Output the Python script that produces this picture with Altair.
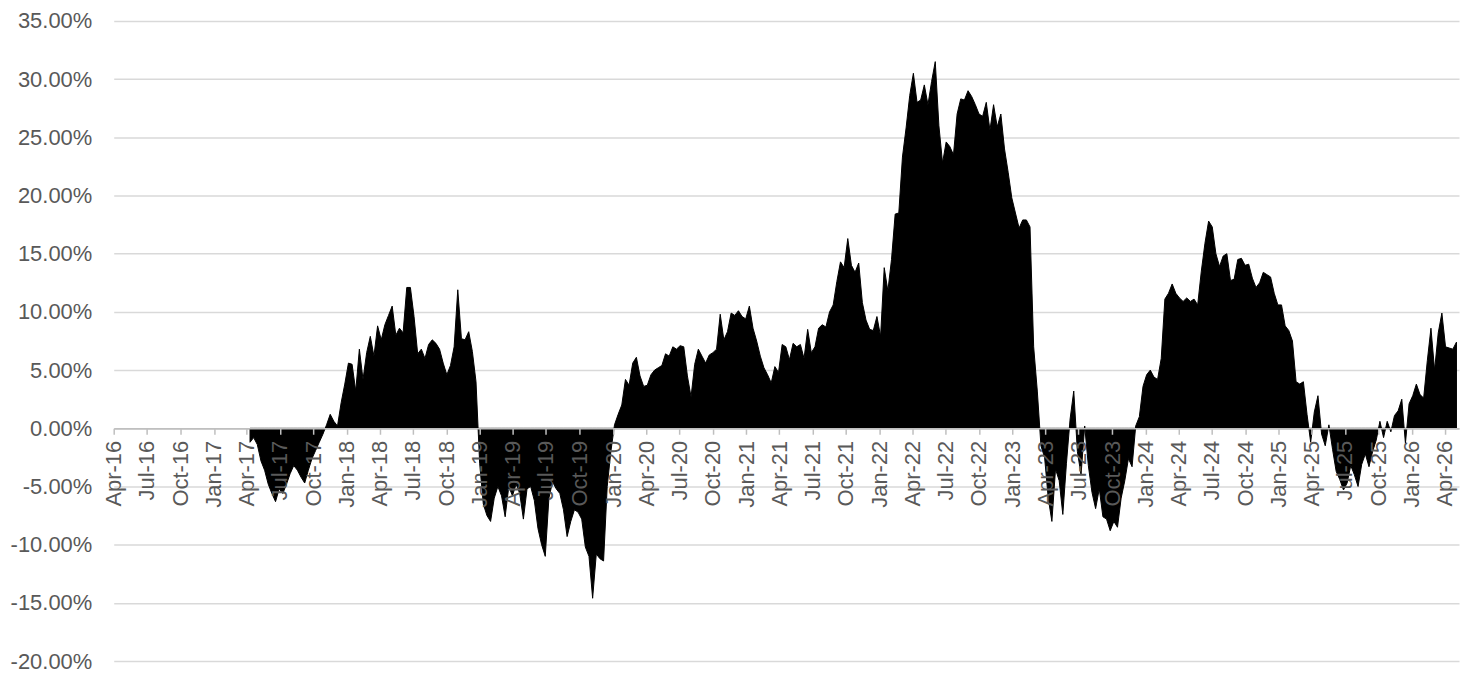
import altair as alt
import pandas as pd

# Series start date and 10-day spacing between observations
start_date = "2017-04-10"
step = "10D"

# Values in percent (one per 10 days)
values = [
    -1.2, -0.8, -1.4, -2.8, -3.6, -4.8, -5.6, -6.3, -5.2, -5.6,
    -4.8, -3.9, -3.2, -3.6, -4.2, -4.7, -3.6, -2.6, -1.9, -1.2,
    -0.5, 0.3, 1.2, 0.6, 0.2, 2.2, 3.8, 5.6, 5.5, 3.2,
    6.8, 4.2, 6.5, 7.9, 6.2, 8.8, 7.6, 8.9, 9.7, 10.5,
    8.0, 8.6, 8.2, 12.1, 12.1, 9.6, 6.4, 6.8, 6.0, 7.2,
    7.6, 7.3, 6.8, 5.6, 4.6, 5.4, 7.0, 11.9, 7.7, 7.6,
    8.3, 6.6, 4.0, -3.0, -6.5, -7.5, -8.0, -6.0, -5.0, -5.8,
    -7.6, -5.0, -5.8, -4.8, -5.6, -7.8, -5.2, -5.0, -6.2, -8.6,
    -10.0, -11.0, -6.0, -4.6, -5.2, -5.6, -7.0, -9.3, -8.0, -7.0,
    -7.2, -7.8, -10.2, -11.0, -14.6, -10.8, -11.2, -11.4, -5.0, -2.0,
    0.3, 1.2, 2.0, 4.2, 3.7, 5.6, 6.1, 4.5, 3.6, 3.7,
    4.6, 5.0, 5.2, 5.4, 6.4, 6.2, 7.0, 6.8, 7.1, 7.0,
    4.5, 2.7, 5.5, 6.8, 6.2, 5.6, 6.3, 6.5, 6.8, 9.8,
    7.6, 8.3, 9.9, 9.7, 10.1, 9.6, 9.4, 10.5, 8.6, 7.5,
    6.2, 5.2, 4.6, 3.9, 5.3, 4.8, 7.2, 7.0, 5.9, 7.3,
    7.0, 7.2, 6.0, 8.5, 6.5, 7.0, 8.6, 8.9, 8.7, 10.0,
    10.6, 12.6, 14.3, 13.8, 16.3, 14.0, 13.4, 14.2, 10.8, 9.3,
    8.5, 8.4, 9.6, 7.9, 13.8, 11.8, 14.5, 18.4, 18.5, 23.3,
    25.8, 28.6, 30.5, 28.0, 28.2, 29.5, 27.8, 29.8, 31.5, 26.0,
    22.8, 24.6, 24.2, 23.5, 27.0, 28.3, 28.2, 29.0, 28.5, 27.8,
    27.0, 26.8, 28.0, 25.6, 27.8, 25.9, 27.0, 24.0, 22.0, 19.8,
    18.5, 17.2, 17.9, 17.9, 17.3, 7.0, 3.2, -1.5, -2.5, -6.0,
    -8.0, -3.5, -4.5, -7.4, -3.0, 0.8, 3.2, -2.0, -4.0, 0.2,
    -3.2, -5.5, -6.9, -5.2, -7.6, -7.8, -8.8, -8.0, -8.5, -6.0,
    -4.5, -2.6, -3.3, 0.2, 1.0, 3.6, 4.6, 5.0, 4.4, 4.2,
    6.0, 11.1, 11.6, 12.4, 11.6, 11.2, 10.9, 11.2, 10.9, 11.1,
    10.6, 13.5, 15.9, 17.8, 17.3, 15.0, 13.9, 14.8, 15.0, 12.7,
    12.8, 14.5, 14.6, 14.0, 14.1, 12.9, 12.1, 12.5, 13.4, 13.2,
    13.0, 11.6, 10.6, 10.6, 8.8, 8.4, 7.5, 4.0, 3.8, 4.0,
    1.2, -1.2, 1.4, 2.8, -0.5, -1.5, 0.3, -1.8, -3.7, -4.4,
    -5.3, -4.7, -3.2, -4.0, -5.0, -3.1, -2.2, -3.3, -2.0, -1.0,
    0.6, -0.8, 0.6, -0.3, 1.1, 1.5, 2.5, -1.3, 2.1, 2.8,
    3.8, 2.9, 2.6, 5.8, 8.6, 5.0, 8.2, 9.9, 7.0, 6.9,
    6.8, 7.4,
]

# Axis ticks: every quarter from Apr-16 to Apr-26
tick_years = [2016 + (3 + 3 * k) // 12 for k in range(41)]
tick_months = [((3 + 3 * k) % 12) + 1 for k in range(41)]
y_ticks = [-20, -15, -10, -5, 0, 5, 10, 15, 20, 25, 30, 35]

dates = pd.date_range(start_date, periods=len(values), freq=step).strftime("%Y-%m-%d")
df = pd.DataFrame({"date": dates, "value": values})

GRAY_TXT = "#595959"
FONT = "Liberation Sans"
H = 642
Y_MIN, Y_MAX = -20, 35
zero_offset = -round(H * (0 - Y_MIN) / (Y_MAX - Y_MIN), 1)

x_enc = alt.X(
    "date:T",
    scale=alt.Scale(
        type="utc",
        domain=[alt.DateTime(year=2016, month=4, date=1, utc=True),
                alt.DateTime(year=2026, month=5, date=10, utc=True)],
        nice=False,
    ),
    axis=alt.Axis(
        values=[alt.DateTime(year=y, month=m, date=1, utc=True) for y, m in zip(tick_years, tick_months)],
        labelExpr="utcFormat(datum.value, '%b-%y')",
        labelAngle=270,
        labelFontSize=22,
        labelFont=FONT,
        labelColor=GRAY_TXT,
        labelPadding=6,
        labelOverlap=False,
        labelFlush=False,
        labelBound=False,
        domain=True,
        domainColor="#bfbfbf",
        domainWidth=1.5,
        tickColor="#bfbfbf",
        tickWidth=1.5,
        tickSize=6,
        grid=False,
        offset=zero_offset,
        zindex=1,
        title=None,
    ),
)

y_enc = alt.Y(
    "value:Q",
    scale=alt.Scale(domain=[Y_MIN, Y_MAX], nice=False, zero=False),
    stack=None,
    axis=alt.Axis(
        values=y_ticks,
        labelExpr="(datum.value < 0 ? '-' : '') + format(abs(datum.value), '.2f') + '%'",
        labelFontSize=22,
        labelFont=FONT,
        labelColor=GRAY_TXT,
        labelPadding=22,
        domain=False,
        ticks=False,
        grid=True,
        gridColor="#d9d9d9",
        gridWidth=1.5,
        title=None,
    ),
)

chart = (
    alt.Chart(df)
    .mark_area(color="black", stroke="black", strokeWidth=1, interpolate="linear")
    .encode(x=x_enc, y=y_enc, y2=alt.datum(0))
    .properties(
        width=1349,
        height=H,
        background="white",
        autosize=alt.AutoSizeParams(type="none"),
        padding={"left": 106, "top": 12, "right": 4, "bottom": 14},
    )
    .configure_view(stroke="transparent", strokeWidth=0)
)

chart.save("out.html", embed_options={"renderer": "svg", "actions": False})
